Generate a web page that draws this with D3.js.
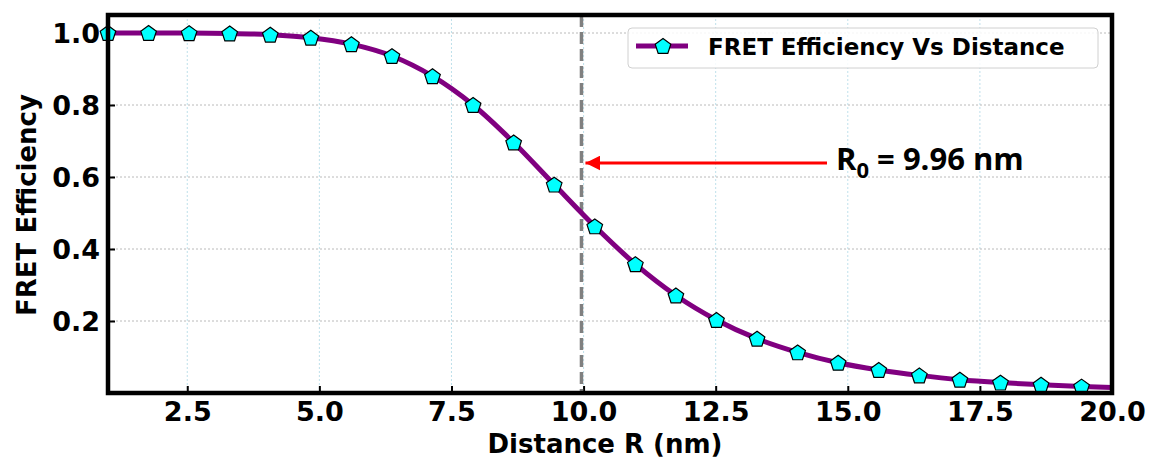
<!DOCTYPE html>
<html>
<head>
<meta charset="utf-8">
<script src="https://cdn.jsdelivr.net/npm/d3@7"></script>
<style>
  body { margin: 0; background: #fff; }
  svg text { font-family: "DejaVu Sans", sans-serif; font-weight: bold; }
</style>
</head>
<body>
<div id="chart"></div>
<script>
// data (marker points + end of line at 20 nm)
var distance = [1.000, 1.768, 2.535, 3.303, 4.071, 4.838, 5.606, 6.374, 7.141, 7.909,
                8.677, 9.444, 10.212, 10.980, 11.747, 12.515, 13.283, 14.051, 14.818,
                15.586, 16.354, 17.121, 17.889, 18.657, 19.424, 20.000];
var efficiency = [1.000, 1.000, 0.9997, 0.9987, 0.9954, 0.987, 0.969, 0.936, 0.880, 0.800,
                  0.696, 0.579, 0.463, 0.358, 0.271, 0.203, 0.151, 0.113, 0.084,
                  0.064, 0.049, 0.037, 0.029, 0.023, 0.018, 0.015];
var showMarker = distance.map(function(d, i) { return i < distance.length - 1; });
var xTicks = [2.5, 5.0, 7.5, 10.0, 12.5, 15.0, 17.5, 20.0];
var yTicks = [0.2, 0.4, 0.6, 0.8, 1.0];
var r0 = 9.96;
var legendLabel = "FRET Efficiency Vs Distance";

// set the dimensions and margins of the graph
var margin = {top: 15, right: 37, bottom: 66, left: 108},
    width = 1149 - margin.left - margin.right,
    height = 459 - margin.top - margin.bottom;

var svg = d3.select("#chart")
    .append("svg")
    .attr("width", 1149)
    .attr("height", 459)
    .append("g")
    .attr("transform", "translate(" + margin.left + "," + margin.top + ")");

var x = d3.scaleLinear().domain([1, 20]).range([0, width]);
var y = d3.scaleLinear().domain([0, 1.05]).range([height, 0]);

// grid
svg.append("g").selectAll("line")
    .data(xTicks)
    .enter().append("line")
    .attr("x1", function(d) { return x(d); })
    .attr("x2", function(d) { return x(d); })
    .attr("y1", 0).attr("y2", height)
    .style("stroke", "#add8e6")
    .style("stroke-width", 0.8)
    .style("stroke-dasharray", "2,2");

svg.append("g").selectAll("line")
    .data(yTicks)
    .enter().append("line")
    .attr("x1", 0).attr("x2", width)
    .attr("y1", function(d) { return y(d); })
    .attr("y2", function(d) { return y(d); })
    .style("stroke", "#a8a8a8")
    .style("stroke-width", 0.8)
    .style("stroke-dasharray", "2,2");

// axes with inward ticks
var xAxis = svg.append("g")
    .attr("transform", "translate(0," + height + ")")
    .call(d3.axisBottom(x).tickValues(xTicks).tickFormat(d3.format(".1f")).tickSizeInner(-7).tickSizeOuter(0));
xAxis.select(".domain").remove();
xAxis.selectAll("line").style("stroke-width", 2);
xAxis.selectAll("text").style("font-size", "27px").attr("fill", "#000").attr("y", 28).attr("dy", 0);

var yAxis = svg.append("g")
    .call(d3.axisLeft(y).tickValues(yTicks).tickFormat(d3.format(".1f")).tickSizeInner(-7).tickSizeOuter(0));
yAxis.select(".domain").remove();
yAxis.selectAll("line").style("stroke-width", 2);
yAxis.selectAll("text").style("font-size", "27px").attr("fill", "#000").attr("x", -8).attr("dy", "0.36em");

// R0 dashed line
svg.append("line")
    .attr("x1", x(r0)).attr("x2", x(r0))
    .attr("y1", 0).attr("y2", height)
    .style("stroke", "#808080")
    .style("stroke-width", 3.5)
    .style("stroke-dasharray", "12,5");

// curve
var points = distance.map(function(d, i) { return {r: d, e: efficiency[i], m: showMarker[i]}; });
svg.append("path")
    .datum(points)
    .attr("d", d3.line()
        .x(function(d) { return x(d.r); })
        .y(function(d) { return y(d.e); })
        .curve(d3.curveMonotoneX))
    .style("fill", "none")
    .style("stroke", "#800080")
    .style("stroke-width", 5);

// pentagon marker shape
var pent = d3.range(5).map(function(k) {
    var a = -Math.PI / 2 + k * 2 * Math.PI / 5;
    return [8.2 * Math.cos(a), 8.2 * Math.sin(a) + 0.8];
});
var pentPath = d3.line()(pent) + "Z";

svg.append("g").selectAll("path")
    .data(points.filter(function(d) { return d.m; }))
    .enter().append("path")
    .attr("d", pentPath)
    .attr("transform", function(d) { return "translate(" + x(d.r) + "," + y(d.e) + ")"; })
    .style("fill", "#00ffff")
    .style("stroke", "#000")
    .style("stroke-width", 1.2);

// spines
svg.append("rect")
    .attr("x", 0).attr("y", 0)
    .attr("width", width).attr("height", height)
    .style("fill", "none")
    .style("stroke", "#000")
    .style("stroke-width", 4.5);

// axis labels
svg.append("text")
    .attr("x", width / 2 - 5)
    .attr("y", height + 60)
    .attr("text-anchor", "middle")
    .style("font-size", "26px")
    .text("Distance R (nm)");

svg.append("text")
    .attr("transform", "translate(" + (36 - margin.left) + "," + 190 + ") rotate(-90)")
    .attr("text-anchor", "middle")
    .style("font-size", "26px")
    .text("FRET Efficiency");

// legend
var lg = svg.append("g").attr("transform", "translate(" + (628 - margin.left) + "," + (28 - margin.top) + ")");
lg.append("rect")
    .attr("width", 470).attr("height", 40)
    .attr("rx", 4)
    .style("fill", "#fff").style("fill-opacity", 0.85)
    .style("stroke", "#d0d0d0").style("stroke-width", 1);
lg.append("line")
    .attr("x1", 8).attr("x2", 60).attr("y1", 18).attr("y2", 18)
    .style("stroke", "#800080").style("stroke-width", 5);
lg.append("path")
    .attr("d", pentPath)
    .attr("transform", "translate(35,18)")
    .style("fill", "#00ffff").style("stroke", "#000").style("stroke-width", 1.2);
lg.append("text")
    .attr("x", 80).attr("y", 27)
    .style("font-size", "23px")
    .text(legendLabel);

// annotation arrow
svg.append("defs").append("marker")
    .attr("id", "head")
    .attr("viewBox", "0 0 10 10")
    .attr("refX", 10).attr("refY", 5)
    .attr("markerWidth", 5).attr("markerHeight", 5)
    .attr("orient", "auto")
    .append("path")
    .attr("d", "M0,0L10,5L0,10Z")
    .style("fill", "#ff0000");

svg.append("line")
    .attr("x1", 827 - margin.left).attr("x2", x(r0) + 4)
    .attr("y1", 163 - margin.top).attr("y2", 163 - margin.top)
    .style("stroke", "#ff0000")
    .style("stroke-width", 3)
    .attr("marker-end", "url(#head)");

var ann = svg.append("text")
    .attr("x", 836 - margin.left)
    .attr("y", 170 - margin.top)
    .style("font-family", "'Open Sans', sans-serif")
    .style("font-size", "31px")
    .attr("fill", "#000");
ann.append("tspan").text("R");
ann.append("tspan").attr("dy", 8).style("font-size", "22px").text("0");
ann.append("tspan").attr("dy", -8).text(" = " + r0.toFixed(2) + " nm");
</script>
</body>
</html>
